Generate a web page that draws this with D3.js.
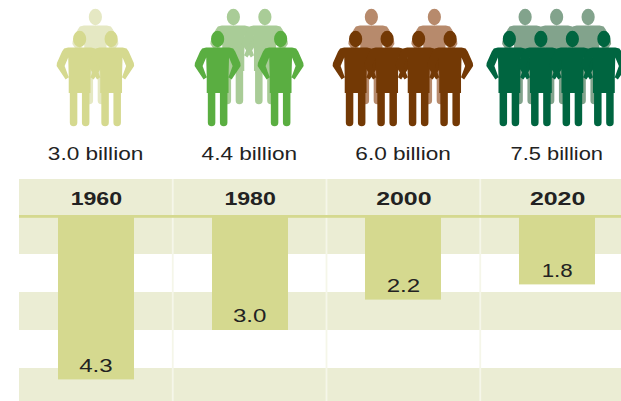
<!DOCTYPE html>
<html>
<head>
<meta charset="utf-8">
<script src="https://cdn.jsdelivr.net/npm/d3@7/dist/d3.min.js"></script>
<style>
html,body{margin:0;padding:0;background:#fff;overflow:hidden}
svg{display:block}
text{font-family:"Liberation Sans",Arial,sans-serif}
</style>
</head>
<body>
<svg id="chart" width="621" height="401"></svg>
<script>
const years = ["1960","1980","2000","2020"];
const populationLabels = ["3.0 billion","4.4 billion","6.0 billion","7.5 billion"];
const values = [4.3,3.0,2.2,1.8];
const frontColors = ["#d5d98f","#5aae41","#733905","#006540"];
const backColors = ["#e5e8c3","#a9cc97","#b78a6c","#82a38c"];
const gridBands = [0,2,4];
const frontSlots = [[-1,1],[-2,2],[-3,-1,1,3],[-3,-1,1,3]];
const backSlots = [[0],[-1,1],[-2,2],[-2,0,2]];

const W=621,H=401;
const svg=d3.select("#chart");
const x=d3.scaleBand().domain(years).range([19,634]);
const y=d3.scaleLinear().domain([0,5]).range([216,406]);
const slotStep=15.75;
const BAR=76;
const TINT="#ebedd4", BAR_COL="#d5d98f", SEP="#f5f6e9", INK="#222";
const cx=d=>x(d)+x.bandwidth()/2;

// background
svg.append("rect").attr("x",19).attr("y",179).attr("width",W-19).attr("height",y(0)-179).attr("fill",TINT);
svg.selectAll("rect.band").data(gridBands).join("rect").attr("class","band")
  .attr("x",19).attr("width",W-19).attr("y",d=>y(d)).attr("height",d=>y(d+1)-y(d)).attr("fill",TINT);
// column separators
svg.selectAll("line.sep").data(years.slice(1)).join("line").attr("class","sep")
  .attr("x1",d=>x(d)).attr("x2",d=>x(d)).attr("y1",179).attr("y2",H)
  .attr("stroke",SEP).attr("stroke-width",1.8);
// header rule
svg.append("rect").attr("x",19).attr("y",215).attr("width",W-19).attr("height",2.8).attr("fill",BAR_COL);

// bars
svg.selectAll("rect.bar").data(years).join("rect").attr("class","bar")
  .attr("x",d=>Math.round(cx(d)-BAR/2)).attr("width",BAR)
  .attr("y",y(0)).attr("height",(d,i)=>y(values[i])-y(0)).attr("fill",BAR_COL);

// stretched text helper
function label(sel,txt,px,py,len,size,weight){
  sel.append("text").text(txt).attr("x",px).attr("y",py).attr("text-anchor","middle")
    .attr("font-size",size).attr("font-weight",weight).attr("fill",INK)
    .attr("textLength",len).attr("lengthAdjust","spacingAndGlyphs");
}
years.forEach((yr,i)=>{
  label(svg,yr,cx(yr)+0.5,205,i<2?51.5:55.5,18,"bold");
  label(svg,values[i].toFixed(1),cx(yr),y(values[i])-7.6,values[i]===1.8?31:33.5,18,"normal");
  label(svg,populationLabels[i],cx(yr)-0.3,160,i===3?92.5:95.5,18,"normal");
});

// one figure, drawn around x=0 with the head at y=39
const halfOutline=[[0,47.5],[11.5,47.5],[15.5,48.5],[17.6,51.5],[22.7,63],[23,66],[14,79.6],[10.9,77.2],[15,66],[11.4,57.5],[10.9,77],[10.9,93],[9.8,93],[9.8,122.4]];
function figurePath(){
  const p=d3.path();
  p.moveTo(halfOutline[0][0],halfOutline[0][1]);
  halfOutline.slice(1).forEach(q=>p.lineTo(q[0],q[1]));
  p.arc(6.05,122.4,3.75,0,Math.PI);
  p.lineTo(2.3,93); p.lineTo(-2.3,93); p.lineTo(-2.3,122.4);
  p.arc(-6.05,122.4,3.75,0,Math.PI);
  halfOutline.slice(1).reverse().forEach(q=>p.lineTo(-q[0],q[1]));
  p.closePath();
  const head="M-6.6,39A6.6,8.2 0 1 0 6.6,39A6.6,8.2 0 1 0 -6.6,39Z";
  return p.toString()+head;
}
const fig=figurePath();
years.forEach((yr,i)=>{
  const g=svg.append("g").attr("transform",`translate(${cx(yr)-0.5},0)`);
  g.selectAll("path.b").data(backSlots[i]).join("path").attr("class","b")
    .attr("d",fig).attr("fill",backColors[i]).attr("transform",s=>`translate(${s*slotStep},-22)`);
  g.selectAll("path.f").data(frontSlots[i]).join("path").attr("class","f")
    .attr("d",fig).attr("fill",frontColors[i]).attr("transform",s=>`translate(${s*slotStep},0)`);
});
</script>
</body>
</html>
